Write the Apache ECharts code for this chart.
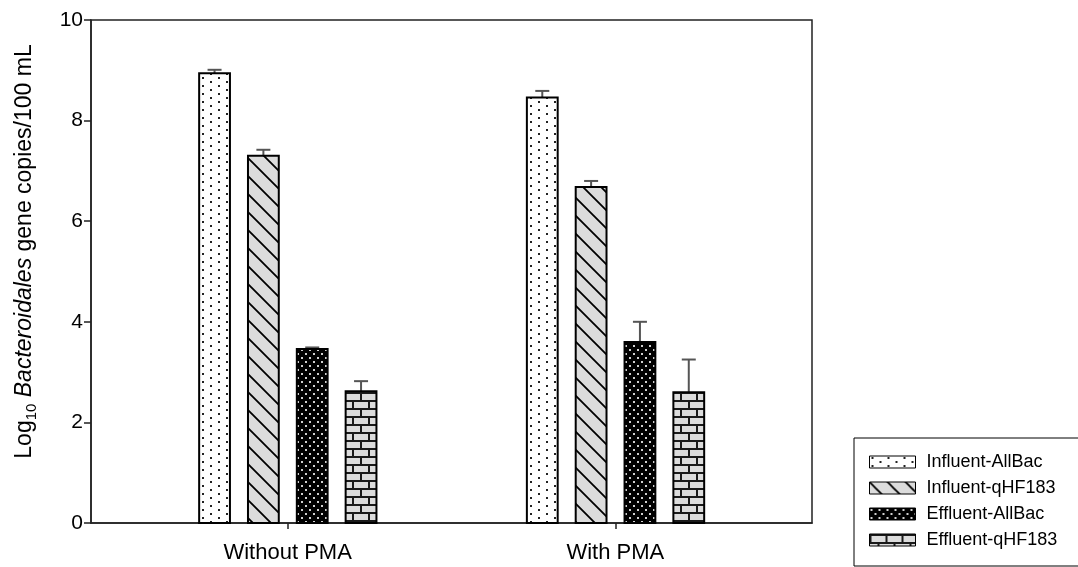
<!DOCTYPE html>
<html><head><meta charset="utf-8">
<script src="https://cdn.jsdelivr.net/npm/echarts@6/dist/echarts.min.js"></script>
<style>html,body{margin:0;padding:0;background:#fff}#chart{width:1078px;height:567px}</style>
</head><body><div id="chart"></div>
<script>
// ---- data ----
const categories = ['Without PMA', 'With PMA'];
const seriesNames = ['Influent-AllBac', 'Influent-qHF183', 'Effluent-AllBac', 'Effluent-qHF183'];
const influentAllBac = [8.94, 8.46];
const influentAllBacErr = [0.07, 0.13];
const influentQHF183 = [7.30, 6.68];
const influentQHF183Err = [0.12, 0.12];
const effluentAllBac = [3.46, 3.60];
const effluentAllBacErr = [0.03, 0.40];
const effluentQHF183 = [2.62, 2.60];
const effluentQHF183Err = [0.20, 0.65];
const yTicks = [0, 2, 4, 6, 8, 10];

// ---- styles ----
const FONT = '"Liberation Sans", Arial, sans-serif';
const barOffsets = [-0.223, -0.074, 0.075, 0.224];
const barWidthUnits = 0.094;

function makePattern(kind) {
  const c = document.createElement('canvas');
  let ctx;
  if (kind === 'dots') {
    c.width = 16; c.height = 8; ctx = c.getContext('2d');
    ctx.fillStyle = '#fff'; ctx.fillRect(0, 0, 16, 8);
    ctx.fillStyle = '#222';
    ctx.fillRect(2, 1, 2, 2); ctx.fillRect(10, 5, 2, 2);
  } else if (kind === 'diag') {
    const s = 18;
    c.width = s; c.height = s; ctx = c.getContext('2d');
    ctx.fillStyle = '#dcdcdc'; ctx.fillRect(0, 0, s, s);
    ctx.strokeStyle = '#000'; ctx.lineWidth = 1.8;
    ctx.beginPath();
    ctx.moveTo(-3, -3); ctx.lineTo(s + 3, s + 3);
    ctx.moveTo(-3, s - 3); ctx.lineTo(3, s + 3);
    ctx.moveTo(s - 3, -3); ctx.lineTo(s + 3, 3);
    ctx.stroke();
  } else if (kind === 'darkdots') {
    c.width = 8; c.height = 8; ctx = c.getContext('2d');
    ctx.fillStyle = '#000'; ctx.fillRect(0, 0, 8, 8);
    ctx.fillStyle = '#d0d0d0';
    ctx.fillRect(1, 1, 2, 2); ctx.fillRect(5, 5, 2, 2);
  } else {
    c.width = 16; c.height = 16; ctx = c.getContext('2d');
    ctx.fillStyle = '#dcdcdc'; ctx.fillRect(0, 0, 16, 16);
    ctx.fillStyle = '#1a1a1a';
    ctx.fillRect(0, 0, 16, 2); ctx.fillRect(0, 8, 16, 2);
    ctx.fillRect(0, 0, 2, 8); ctx.fillRect(8, 8, 2, 8);
  }
  return { image: c, repeat: 'repeat' };
}
const patterns = [makePattern('dots'), makePattern('diag'), makePattern('darkdots'), makePattern('brick')];

const values = [influentAllBac, influentQHF183, effluentAllBac, effluentQHF183];
const errors = [influentAllBacErr, influentQHF183Err, effluentAllBacErr, effluentQHF183Err];

function renderItem(params, api) {
  const si = params.seriesIndex;
  const x = api.value(0) + barOffsets[si];
  const v = api.value(1), e = api.value(2);
  const top = api.coord([x, v]);
  const base = api.coord([x, 0]);
  const errTop = api.coord([x, v + e]);
  const w = api.size([barWidthUnits, 0])[0];
  return {
    type: 'group',
    children: [
      { type: 'line', shape: { x1: top[0], y1: errTop[1], x2: top[0], y2: top[1] }, style: { stroke: '#555', lineWidth: 2 } },
      { type: 'line', shape: { x1: top[0] - 7, y1: errTop[1], x2: top[0] + 7, y2: errTop[1] }, style: { stroke: '#555', lineWidth: 2 } },
      { type: 'rect', shape: { x: top[0] - w / 2, y: top[1], width: w, height: base[1] - top[1] }, style: { fill: patterns[si], stroke: '#000', lineWidth: 2 } }
    ]
  };
}

const series = seriesNames.map((name, si) => ({
  name,
  type: 'custom',
  renderItem,
  itemStyle: { color: patterns[si], borderColor: '#000', borderWidth: 1 },
  data: categories.map((c, ci) => [ci + 1, values[si][ci], errors[si][ci]])
}));

const chart = echarts.init(document.getElementById('chart'), null, { renderer: 'canvas' });
chart.setOption({
  animation: false,
  backgroundColor: '#fff',
  textStyle: { fontFamily: FONT, color: '#000' },
  grid: { left: 91, right: 266, top: 20, bottom: 44, show: true, borderColor: '#222', borderWidth: 1.5, backgroundColor: 'transparent' },
  legend: {
    data: seriesNames,
    orient: 'vertical',
    left: 854, top: 438,
    icon: 'rect',
    itemWidth: 46, itemHeight: 12,
    itemGap: 6,
    padding: [14, 30, 16, 15],
    borderColor: '#000', borderWidth: 1,
    itemStyle: { borderColor: '#000', borderWidth: 1 },
    textStyle: { fontFamily: FONT, fontSize: 18, color: '#000', lineHeight: 20, padding: [0, 0, 0, 6] }
  },
  xAxis: {
    type: 'value', min: 0.4, max: 2.6,
    splitLine: { show: false },
    axisLine: { show: true, lineStyle: { color: '#222', width: 1.5 } },
    axisTick: { show: true, customValues: [1, 2], length: 6, lineStyle: { color: '#222', width: 1.5 } },
    axisLabel: { customValues: [1, 2], formatter: v => categories[Math.round(v) - 1] || '', fontSize: 22, color: '#000', margin: 19, fontFamily: FONT }
  },
  yAxis: {
    type: 'value', min: 0, max: 10, interval: 2,
    splitLine: { show: false },
    axisLine: { show: true, lineStyle: { color: '#222', width: 1.5 } },
    axisTick: { show: true, length: 7, lineStyle: { color: '#222', width: 1.5 } },
    axisLabel: { fontSize: 21, color: '#000', margin: 8, fontFamily: FONT, formatter: v => yTicks.includes(v) ? String(v) : '' },
    name: '{n|Log}{s|10}{n| }{i|Bacteroidales}{n| gene copies/100 mL}',
    nameLocation: 'middle',
    nameGap: 52,
    nameTextStyle: {
      padding: [0, 0, 0, 40],
      rich: {
        n: { fontSize: 23, fontFamily: FONT, color: '#000' },
        s: { fontSize: 15, fontFamily: FONT, color: '#000', padding: [14, 0, 0, 0] },
        i: { fontSize: 23, fontFamily: FONT, color: '#000', fontStyle: 'italic' }
      }
    }
  },
  series
});
</script></body></html>
